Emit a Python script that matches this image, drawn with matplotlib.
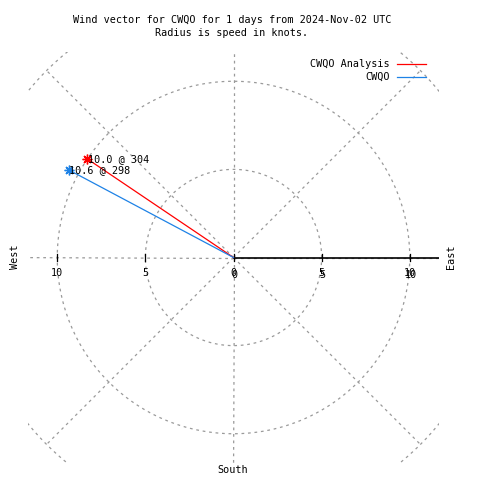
import numpy as np
import matplotlib
matplotlib.use('Agg')
import matplotlib.pyplot as plt
import matplotlib.transforms as mtransforms

# wind vectors (speed in knots, direction in degrees)
names = ['CWQO Analysis', 'CWQO']
speeds = [10.0, 10.6]
directions = [304, 298]
colors = ['#ff0000', '#1e82e6']

grid_radii = [5, 10, 15]
grid_angles = [0, 45, 90, 135, 180, 225, 270, 315]
tick_values = [-10, -5, 0, 5, 10]
tick_labels = ['10', '5', '0', '5', '10']
rmax = 11.66

plt.rcParams['font.family'] = 'DejaVu Sans Mono'
fs = 7.25
grey = '#9a9a9a'
dash = (0, (2.2, 3.0))

fig = plt.figure(figsize=(4.8, 4.8), dpi=100)
ax = fig.add_axes([28 / 480, 17 / 480, 411 / 480, 411 / 480])
ax.set_xlim(-rmax, rmax)
ax.set_ylim(-rmax, rmax)
ax.axis('off')

# polar grid
t = np.linspace(0, 2 * np.pi, 400)
for r in grid_radii:
    ax.plot(r * np.cos(t), r * np.sin(t), color=grey, lw=0.9, ls=dash)
for a in grid_angles:
    rr = 15 if a % 90 else 20
    ax.plot([0, rr * np.cos(np.radians(a))], [0, rr * np.sin(np.radians(a))],
            color=grey, lw=0.9, ls=dash)

# radius axis
ax.plot([0, rmax], [0, 0], color='black', lw=1.2)
for v, lab in zip(tick_values, tick_labels):
    ax.plot([v, v], [-0.22, 0.22], color='black', lw=0.9)
    ax.text(v, -0.9, lab, ha='center', va='center', fontsize=fs)
    if v >= 0:
        off = mtransforms.offset_copy(ax.transData, fig=fig, x=0.7, y=-1.5, units='dots')
        ax.text(v, -0.9, lab, ha='center', va='center', fontsize=fs, transform=off)

# wind vectors
for name, s, d, c in zip(names, speeds, directions, colors):
    x = s * np.sin(np.radians(d))
    y = s * np.cos(np.radians(d))
    ax.plot([0, x], [0, y], color=c, lw=0.9, label=name)
    ax.plot(x, y, marker=(8, 2, 0), color=c, mec=c, mew=1.0, ms=7, ls='none')
    ax.text(x + 0.05, y, '%.1f @ %d' % (s, d), fontsize=fs, ha='left', va='center')

ax.legend(loc='upper right', bbox_to_anchor=(431 / 480, 1 - 54 / 480),
          bbox_transform=fig.transFigure, frameon=False, markerfirst=False,
          fontsize=fs, handlelength=2.9, handletextpad=0.7, labelspacing=0.3,
          borderpad=0)

fig.text(232 / 480, 1 - 20 / 480, 'Wind vector for CWQO for 1 days from 2024-Nov-02 UTC',
         ha='center', va='center', fontsize=fs)
fig.text(232 / 480, 1 - 33 / 480, 'Radius is speed in knots.',
         ha='center', va='center', fontsize=fs)
fig.text(15 / 480, 1 - 257 / 480, 'West', rotation=90, ha='center', va='center', fontsize=fs)
fig.text(451 / 480, 1 - 257 / 480, 'East', rotation=90, ha='center', va='center', fontsize=fs)
fig.text(233 / 480, 1 - 470 / 480, 'South', ha='center', va='center', fontsize=fs)

fig.savefig('out.png')
